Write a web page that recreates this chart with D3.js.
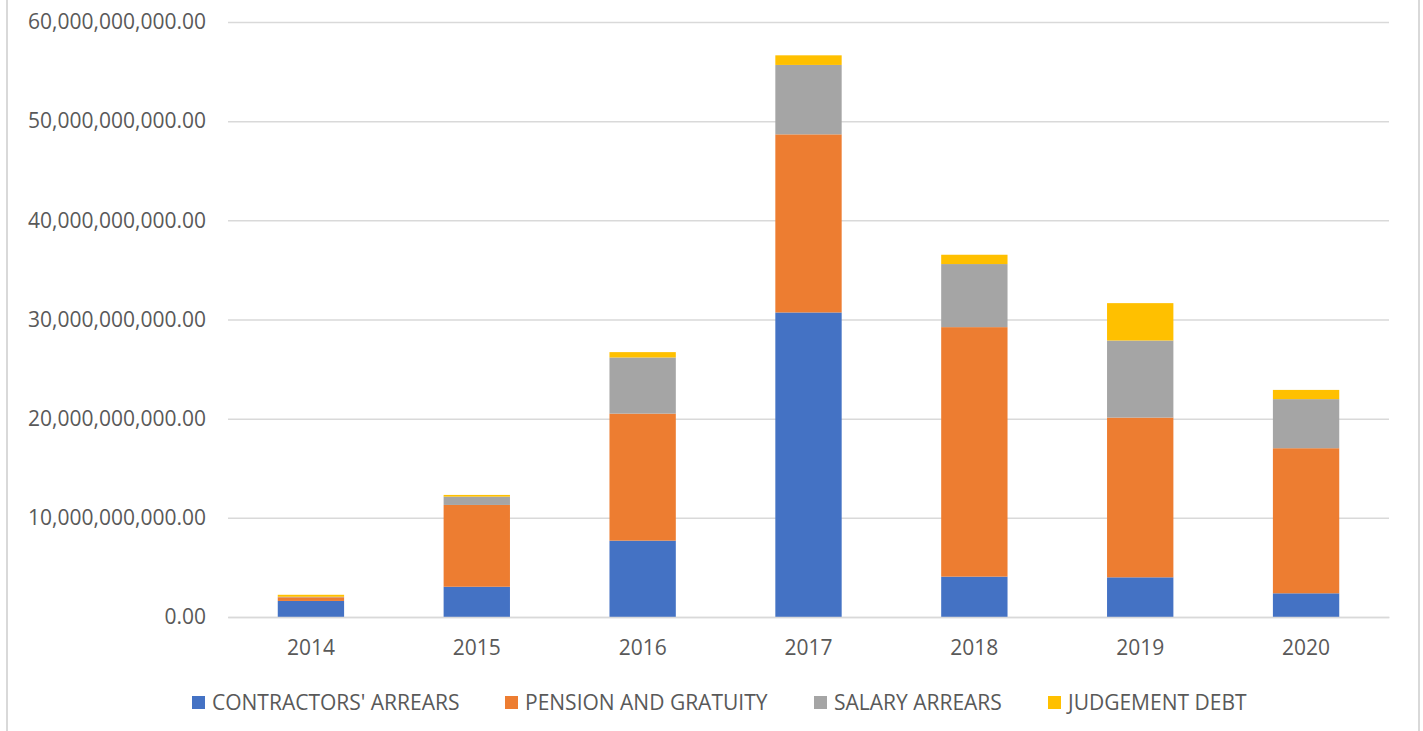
<!DOCTYPE html>
<html>
<head>
<meta charset="utf-8">
<script src="https://cdn.jsdelivr.net/npm/d3@7"></script>
<style>
  html, body { margin: 0; padding: 0; background: #fff; }
  svg text { font-family: "Open Sans", "Noto Sans", sans-serif; fill: #595959; }
</style>
</head>
<body>
<div id="chart"></div>
<script>
const years = ["2014", "2015", "2016", "2017", "2018", "2019", "2020"];
const seriesNames = ["CONTRACTORS' ARREARS", "PENSION AND GRATUITY", "SALARY ARREARS", "JUDGEMENT DEBT"];
const seriesColors = ["#4472c4", "#ed7d31", "#a5a5a5", "#ffc000"];

// values (naira)
const contractorsArrears = [1.62e9, 3.05e9, 7.70e9, 30.71e9, 4.07e9, 4.00e9, 2.39e9];
const pensionAndGratuity = [0.37e9, 8.25e9, 12.81e9, 17.96e9, 25.16e9, 16.11e9, 14.63e9];
const salaryArrears      = [0.05e9, 0.84e9, 5.66e9, 7.00e9, 6.36e9, 7.77e9, 4.95e9];
const judgementDebt      = [0.20e9, 0.17e9, 0.54e9, 0.97e9, 0.94e9, 3.77e9, 0.93e9];

const yTicks = [0, 10e9, 20e9, 30e9, 40e9, 50e9, 60e9];

const W = 1423, H = 731;
const margin = { top: 22, right: 34, bottom: 114, left: 228 };
const width = W - margin.left - margin.right;
const height = H - margin.top - margin.bottom;

const rows = years.map((y, i) => ({
  year: y,
  s0: contractorsArrears[i],
  s1: pensionAndGratuity[i],
  s2: salaryArrears[i],
  s3: judgementDebt[i]
}));
const stacked = d3.stack().keys(["s0", "s1", "s2", "s3"])(rows);

const svg = d3.select("#chart").append("svg")
  .attr("width", W)
  .attr("height", H);

// chart frame
svg.append("line").attr("x1", 7).attr("x2", 7).attr("y1", 0).attr("y2", H)
  .attr("stroke", "#d9d9d9").attr("stroke-width", 2);
svg.append("line").attr("x1", 1419).attr("x2", 1419).attr("y1", 0).attr("y2", H)
  .attr("stroke", "#d9d9d9").attr("stroke-width", 2);

const g = svg.append("g")
  .attr("transform", `translate(${margin.left},${margin.top})`);

const x = d3.scaleBand().domain(years).range([0, width]).paddingInner(0.6).paddingOuter(0.3);
const y = d3.scaleLinear().domain([0, 60e9]).range([height, 0]);

// gridlines
g.append("g")
  .call(d3.axisLeft(y).tickValues(yTicks).tickSize(-width).tickFormat(""))
  .call(s => s.select(".domain").remove())
  .selectAll("line")
  .attr("stroke", "#d9d9d9")
  .attr("stroke-width", 1.5);

// y labels
const fmt = d3.format(",.2f");
g.append("g")
  .call(d3.axisLeft(y).tickValues(yTicks).tickSize(0).tickPadding(22).tickFormat(d => fmt(d)))
  .call(s => s.select(".domain").remove())
  .selectAll("text")
  .style("font-size", "21px")
  .style("fill", "#595959");

// bars
g.selectAll(".layer")
  .data(stacked)
  .enter().append("g")
  .attr("class", "layer")
  .attr("fill", (d, i) => seriesColors[i])
  .selectAll("rect")
  .data(d => d)
  .enter().append("rect")
  .attr("x", d => x(d.data.year))
  .attr("y", d => y(d[1]))
  .attr("width", x.bandwidth())
  .attr("height", d => y(d[0]) - y(d[1]));

// x axis
g.append("g")
  .attr("transform", `translate(0,${height})`)
  .call(d3.axisBottom(x).tickSize(0).tickPadding(23))
  .call(s => s.select(".domain").attr("stroke", "#d9d9d9").attr("stroke-width", 1.5))
  .selectAll("text")
  .style("font-size", "21px")
  .style("fill", "#595959");

// legend
const legendX = [192, 505, 814, 1048];
const legend = svg.append("g").attr("transform", "translate(0,703)");
const item = legend.selectAll(".item")
  .data(seriesNames)
  .enter().append("g")
  .attr("class", "item")
  .attr("transform", (d, i) => `translate(${legendX[i]},0)`);
item.append("rect")
  .attr("x", 0).attr("y", -7)
  .attr("width", 13).attr("height", 13)
  .attr("fill", (d, i) => seriesColors[i]);
item.append("text")
  .attr("x", 20).attr("y", 0)
  .attr("dy", "0.35em")
  .style("font-size", "21px")
  .text(d => d);
</script>
</body>
</html>
